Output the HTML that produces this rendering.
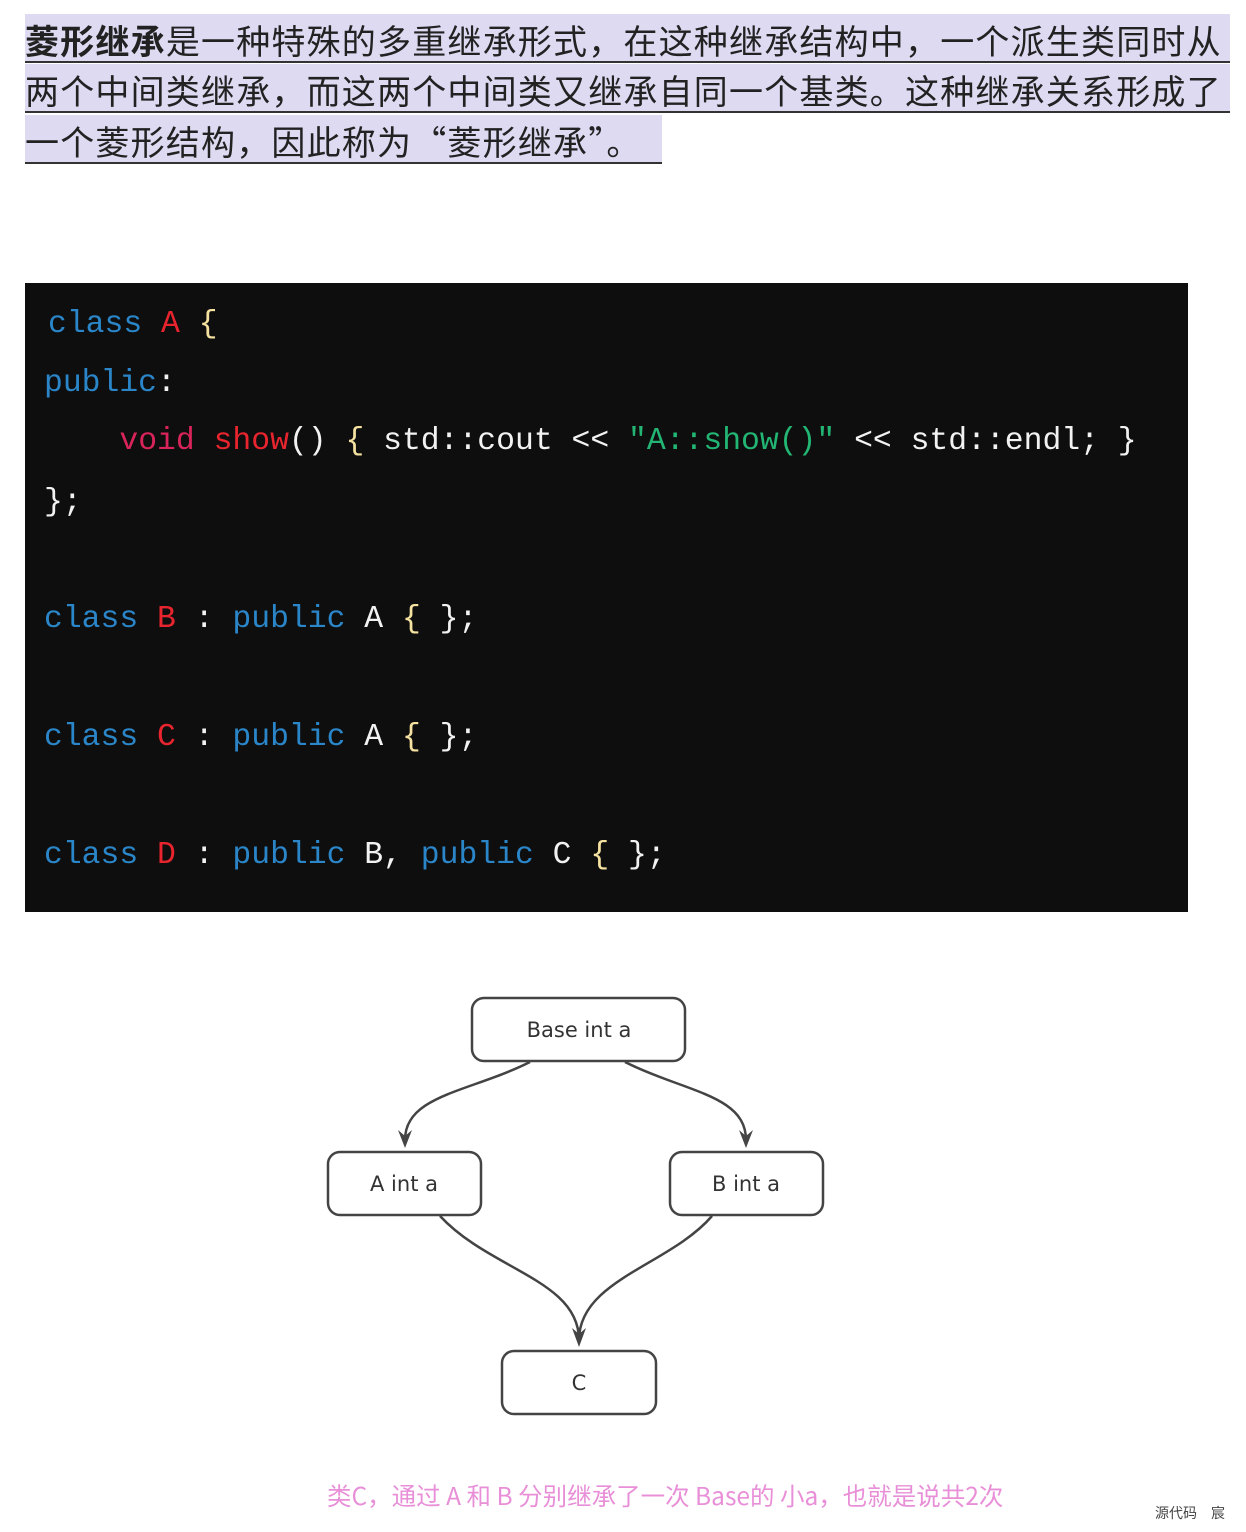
<!DOCTYPE html>
<html><head><meta charset="utf-8"><style>
body{margin:0;width:1246px;height:1532px;background:#fff;position:relative;overflow:hidden;font-family:"Liberation Sans","Noto Sans CJK SC",sans-serif}
.hl{position:absolute;left:25px;background:#dedaf2;border-bottom:2px solid #333;height:47px;font-family:"Noto Sans CJK SC",sans-serif;font-size:34px;letter-spacing:1.2px;line-height:52px;color:#222;white-space:nowrap;overflow:hidden}
.code{position:absolute;left:25px;top:283px;width:1163px;height:629px;background:#0e0e0e}
.ln{position:absolute;font-family:"Liberation Mono",monospace;font-size:31.4px;line-height:40px;white-space:pre;color:#f2f2f2}
.k{color:#2a86c8}.r{color:#e8242e}.v{color:#d8245a}.g{color:#22b573}.y{color:#f5e2a0}
</style></head><body>
<div class="hl" style="top:14px;width:1205px"><b>菱形继承</b>是一种特殊的多重继承形式，在这种继承结构中，一个派生类同时从</div>
<div class="hl" style="top:64px;width:1205px">两个中间类继承，而这两个中间类又继承自同一个基类。这种继承关系形成了</div>
<div class="hl" style="top:115px;width:637px">一个菱形结构，因此称为“菱形继承”。</div>

<div class="code">
<div class="ln" style="left:23px;top:22px"><span class="k">class</span> <span class="r">A</span> <span class="y">{</span></div>
<div class="ln" style="left:19px;top:81px"><span class="k">public</span>:</div>
<div class="ln" style="left:19px;top:139px">    <span class="v">void</span> <span class="r">show</span>() <span class="y">{</span> std::cout &lt;&lt; <span class="g">"A::show()"</span> &lt;&lt; std::endl; }</div>
<div class="ln" style="left:19px;top:200px">};</div>
<div class="ln" style="left:19px;top:317px"><span class="k">class</span> <span class="r">B</span> : <span class="k">public</span> A <span class="y">{</span> };</div>
<div class="ln" style="left:19px;top:435px"><span class="k">class</span> <span class="r">C</span> : <span class="k">public</span> A <span class="y">{</span> };</div>
<div class="ln" style="left:19px;top:553px"><span class="k">class</span> <span class="r">D</span> : <span class="k">public</span> B, <span class="k">public</span> C <span class="y">{</span> };</div>
</div>

<svg style="position:absolute;left:0;top:0" width="1246" height="1532">
<g fill="#fff" stroke="#444" stroke-width="2.5">
<rect x="472" y="998" width="213" height="63" rx="12"/>
<rect x="328" y="1152" width="153" height="63" rx="12"/>
<rect x="670" y="1152" width="153" height="63" rx="12"/>
<rect x="502" y="1351" width="154" height="63" rx="12"/>
</g>
<g fill="none" stroke="#444" stroke-width="2.5">
<path d="M530,1062 C470,1092 405,1095 405,1140"/>
<path d="M625,1062 C685,1092 746,1095 746,1140"/>
<path d="M440,1216 C490,1270 579,1280 579,1340"/>
<path d="M712,1216 C670,1265 579,1280 579,1340"/>
</g>
<g fill="#444">
<path d="M398,1130 L405,1148 L412,1130 L405,1136 Z"/>
<path d="M739,1130 L746,1148 L753,1130 L746,1136 Z"/>
<path d="M572,1328 L579,1347 L586,1328 L579,1334 Z"/>
</g>
<g font-family="DejaVu Sans,sans-serif" font-size="21" fill="#333" text-anchor="middle">
<text x="579" y="1037">Base  int a</text>
<text x="404" y="1191">A int a</text>
<text x="746" y="1191">B int a</text>
<text x="579" y="1390">C</text>
</g>
</svg>
<div style="position:absolute;left:327px;top:1478px;font-family:'Noto Sans CJK SC',sans-serif;font-size:24.5px;color:#e88fd8;white-space:nowrap;letter-spacing:0px">类C，通过 A 和 B 分别继承了一次 Base的 小a，也就是说共2次</div>
<div style="position:absolute;left:1155px;top:1503px;font-size:14px;color:#444;white-space:nowrap">源代码　宸</div>
</body></html>
